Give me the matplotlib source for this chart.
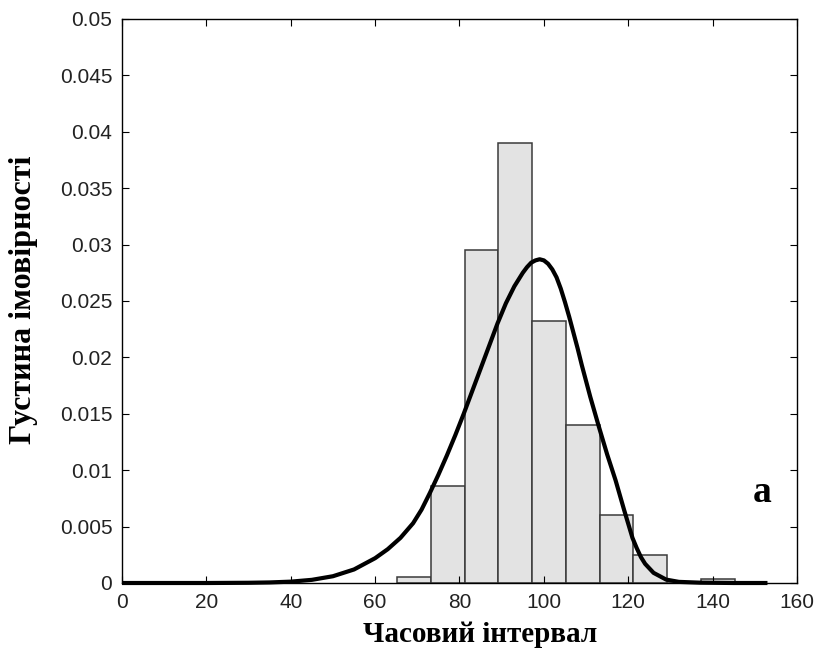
import numpy as np
import matplotlib
matplotlib.use('Agg')
import matplotlib.pyplot as plt

# histogram (bin left edges, bin width 8) and heights
bin_left = [65.2, 73.2, 81.2, 89.2, 97.2, 105.2, 113.2, 121.2, 129.2, 137.2]
bin_height = [0.0005, 0.0086, 0.0295, 0.0390, 0.0232, 0.0140, 0.0060, 0.00245, 0.0, 0.00035]
bin_width = 8

# fitted density curve
curve_x = [0, 10, 20, 30, 35, 40, 45, 50, 55, 60, 63, 66, 69, 71, 73, 75, 77, 79,
           81, 83, 85, 87, 89, 91, 93, 95, 96, 97, 98, 99, 100, 101, 102, 103,
           104, 105, 106, 107, 108, 109, 111, 113, 115, 117, 119, 121, 122, 123,
           124, 125, 126, 127, 129, 132, 137, 145, 153]
curve_y = [0, 0, 0, 0.00002, 0.00005, 0.00012, 0.00028, 0.0006, 0.0012, 0.0022,
           0.0030, 0.0040, 0.0053, 0.0065, 0.0080, 0.0096, 0.0113, 0.0131,
           0.0150, 0.0170, 0.0190, 0.0210, 0.0230, 0.0248, 0.0263, 0.0275, 0.0280,
           0.0284, 0.0286, 0.0287, 0.0286, 0.0283, 0.0278, 0.0271,
           0.0261, 0.0249, 0.0236, 0.0222, 0.0208, 0.0193, 0.0165, 0.0139, 0.0114,
           0.0091, 0.0065, 0.0040, 0.0031, 0.0023,
           0.0017, 0.0013, 0.0009, 0.0007, 0.0003, 0.0001, 0.00003, 0, 0]

xticks = [0, 20, 40, 60, 80, 100, 120, 140, 160]
yticks = [0, 0.005, 0.01, 0.015, 0.02, 0.025, 0.03, 0.035, 0.04, 0.045, 0.05]
ytick_labels = ['0', '0.005', '0.01', '0.015', '0.02', '0.025', '0.03', '0.035',
                '0.04', '0.045', '0.05']

fig = plt.figure(figsize=(8.2, 6.48), dpi=100)
ax = fig.add_axes([122/820, 1-583/648, 675/820, 564/648])

ax.bar(bin_left, bin_height, width=bin_width, align='edge',
       facecolor='#e3e3e3', edgecolor='#3a3a3a', linewidth=1.1)
ax.plot(curve_x, curve_y, color='black', linewidth=3.0, clip_on=False,
        solid_capstyle='butt', solid_joinstyle='round')

ax.set_xlim(0, 160)
ax.set_ylim(0, 0.05)
ax.set_xticks(xticks)
ax.set_xticklabels([str(t) for t in xticks])
ax.set_yticks(yticks)
ax.set_yticklabels(ytick_labels)

tick_font = 'Liberation Sans'
ax.tick_params(direction='in', length=5, width=0.8, top=True, right=True,
               labelsize=15)
ax.tick_params(axis='x', pad=7)
ax.tick_params(axis='y', pad=7)
for lab in ax.get_xticklabels() + ax.get_yticklabels():
    lab.set_fontfamily(tick_font)
    lab.set_color('#222222')
for s in ax.spines.values():
    s.set_linewidth(1.0)

fig.text(480/820, 1-634/648, 'Часовий інтервал', ha='center', va='center',
         fontsize=21, fontweight='bold', family='Liberation Serif')
fig.text(24/820, 1-300/648, 'Густина імовірності', ha='center', va='center',
         rotation=90, fontsize=23, fontweight='bold', family='Liberation Serif')
ax.text(0.948, 0.161, 'a', transform=ax.transAxes, ha='center', va='center',
        fontsize=27, fontweight='bold', family='Liberation Serif')

fig.savefig('out.png', dpi=100)
